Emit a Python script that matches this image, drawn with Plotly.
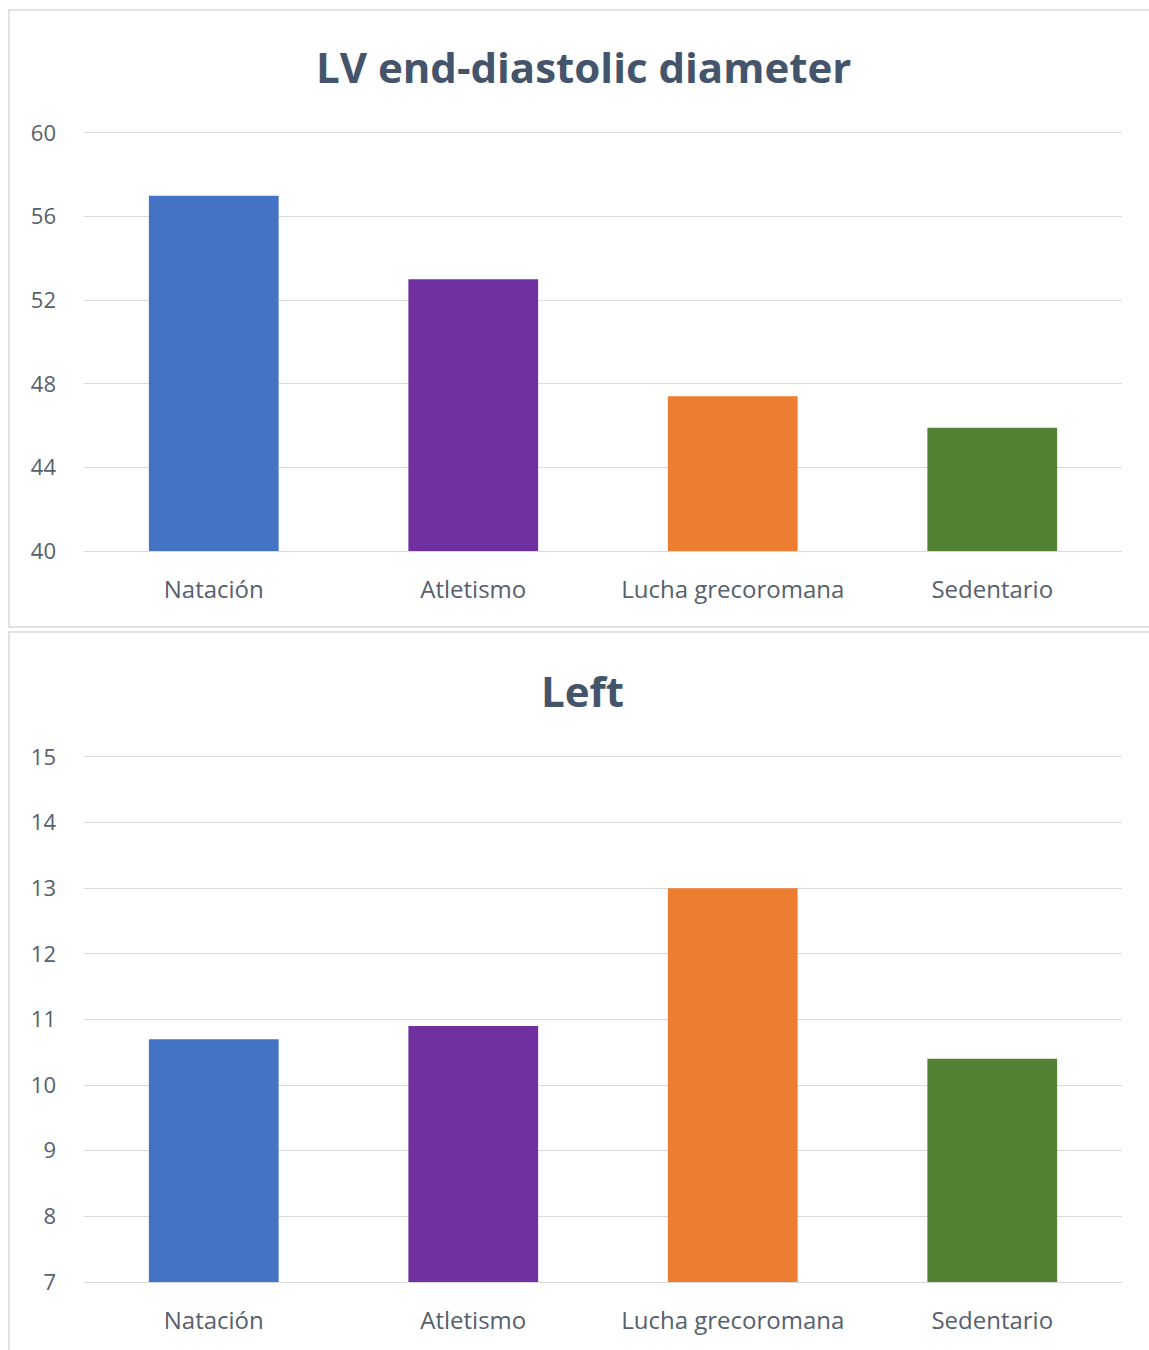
import plotly.graph_objects as go

categories = ["Natación", "Atletismo", "Lucha grecoromana", "Sedentario"]
lvedd_values = [57.0, 53.0, 47.4, 45.9]
left_values = [10.7, 10.9, 13.0, 10.4]
bar_colors = ["#4472C4", "#7030A0", "#ED7D31", "#548235"]
top_title = "LV end-diastolic diameter"
bottom_title = "Left"
top_ticks = [40, 44, 48, 52, 56, 60]
bottom_ticks = [7, 8, 9, 10, 11, 12, 13, 14, 15]

W, H = 1149, 1350
FONT = "'Open Sans', Lato, sans-serif"
TEXT_COLOR = "#56606E"
TITLE_COLOR = "#44546A"
GRID = "#D9D9D9"

def py(px):
    return 1 - px / H

fig = go.Figure()
fig.add_trace(go.Bar(x=categories, y=lvedd_values, marker=dict(color=bar_colors, line=dict(width=0)),
                     xaxis="x", yaxis="y", showlegend=False, hoverinfo="x+y"))
fig.add_trace(go.Bar(x=categories, y=left_values, marker=dict(color=bar_colors, line=dict(width=0)),
                     xaxis="x2", yaxis="y2", showlegend=False, hoverinfo="x+y"))

xdom = [84 / W, 1122 / W]
common_x = dict(domain=xdom, showgrid=False, showline=True, mirror=True, linecolor=GRID, linewidth=1,
                ticks="", tickfont=dict(family=FONT, size=24, color=TEXT_COLOR),
                ticklabelstandoff=17, fixedrange=True, automargin=False)
common_y = dict(showgrid=True, gridcolor=GRID, gridwidth=1, zeroline=False, showline=False,
                ticks="", tickfont=dict(family=FONT, size=22, color=TEXT_COLOR),
                ticklabelstandoff=27, fixedrange=True, automargin=False)

fig.update_layout(
    width=W, height=H,
    autosize=False,
    margin=dict(l=0, r=0, t=0, b=0, pad=0),
    paper_bgcolor="white", plot_bgcolor="white",
    bargap=0.5,
    xaxis=dict(common_x, anchor="y"),
    yaxis=dict(common_y, domain=[py(551), py(133)], range=[40, 60], tickvals=top_ticks, anchor="x"),
    xaxis2=dict(common_x, anchor="y2"),
    yaxis2=dict(common_y, domain=[py(1282), py(757)], range=[7, 15], tickvals=bottom_ticks, anchor="x2"),
    shapes=[
        dict(type="rect", xref="paper", yref="paper", x0=9 / W, x1=1.01, y0=py(627), y1=py(10),
             line=dict(color=GRID, width=1.5), fillcolor="rgba(0,0,0,0)", layer="below"),
        dict(type="rect", xref="paper", yref="paper", x0=9 / W, x1=1.01, y0=-0.01, y1=py(632),
             line=dict(color=GRID, width=1.5), fillcolor="rgba(0,0,0,0)", layer="below"),
    ],
    annotations=[
        dict(text=f"<b>{top_title}</b>", xref="paper", yref="paper", x=583 / W, y=py(67),
             xanchor="center", yanchor="middle", showarrow=False,
             font=dict(family=FONT, size=42, color=TITLE_COLOR)),
        dict(text=f"<b>{bottom_title}</b>", xref="paper", yref="paper", x=582 / W, y=py(690),
             xanchor="center", yanchor="middle", showarrow=False,
             font=dict(family=FONT, size=42, color=TITLE_COLOR)),
    ],
)

fig.write_html("out.html")
